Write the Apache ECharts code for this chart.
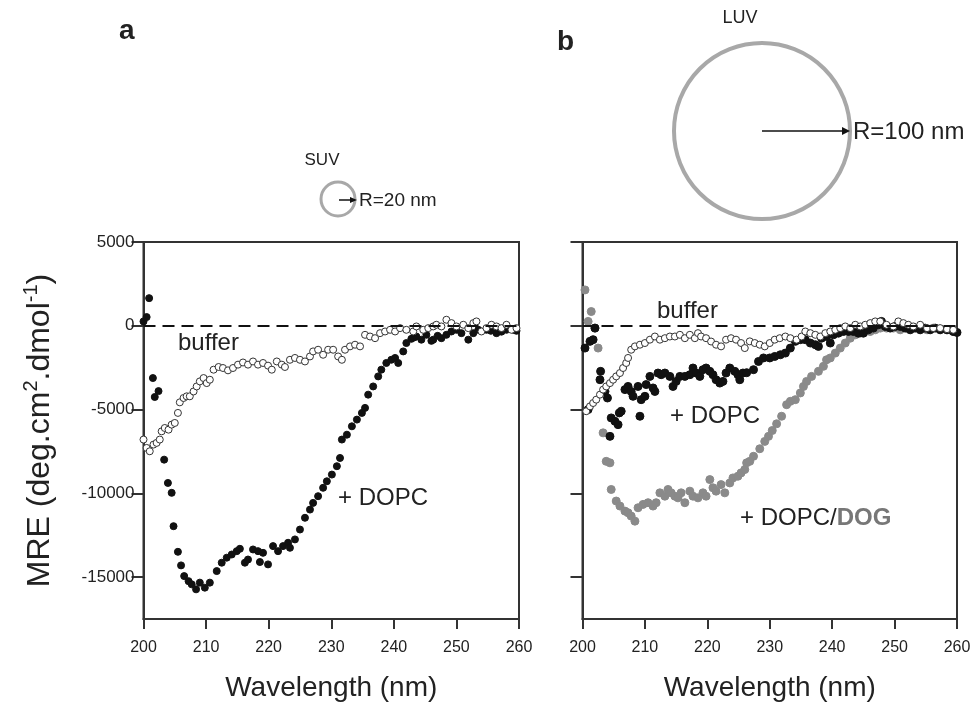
<!DOCTYPE html>
<html>
<head>
<meta charset="utf-8">
<script src="https://cdn.jsdelivr.net/npm/echarts@6/dist/echarts.min.js"></script>
<style>
  html, body { margin: 0; padding: 0; background: #fff; }
  #main { width: 973px; height: 705px; }
</style>
</head>
<body>
<div id="main"></div>
<script>
// CD spectra, wavelength (nm) vs MRE (deg.cm2.dmol-1)
var xTicks = [200, 210, 220, 230, 240, 250, 260];
var yTicks = [-15000, -10000, -5000, 0, 5000];

// panel a (SUV)
var dopcA = [
  [200.0, 260], [200.5, 520], [200.9, 1650], [201.5, -3120], [201.8, -4250], [202.4, -3900],
  [203.3, -7990], [203.9, -9380], [204.5, -9970], [204.8, -11960], [205.5, -13490], [206.0, -14300],
  [206.5, -14940], [207.2, -15240], [207.7, -15430], [208.4, -15730], [209.0, -15330], [209.8, -15630],
  [210.6, -15330], [211.7, -14640], [212.5, -14140], [213.3, -13840], [214.1, -13650], [214.9, -13450],
  [215.4, -13310], [216.2, -14140], [216.7, -13950], [217.5, -13350], [218.3, -13450], [218.6, -14100],
  [219.1, -13550], [219.9, -14240], [220.7, -13150], [221.5, -13450], [222.3, -13150], [223.1, -12950],
  [223.4, -13250], [224.2, -12750], [225.0, -12160], [225.8, -11460], [226.6, -10970], [227.1, -10570],
  [227.9, -10170], [228.7, -9670], [229.3, -9280], [230.1, -8880], [230.9, -8380], [231.4, -7890],
  [231.7, -6790], [232.5, -6500], [233.3, -6000], [234.1, -5600], [234.9, -5200], [235.4, -4900],
  [235.9, -4110], [236.7, -3620], [237.5, -3020], [238.0, -2620], [238.8, -2220], [239.6, -2030],
  [240.2, -1920], [240.7, -2220], [241.5, -1530], [242.0, -1030], [242.8, -780], [243.2, -700],
  [243.6, -640], [244.4, -830], [245.2, -540], [246.0, -900], [246.3, -830], [247.0, -600],
  [247.6, -740], [248.4, -540], [249.2, -340], [250.0, -240], [250.8, -440], [251.9, -830],
  [252.7, -440], [253.5, -240], [254.8, -240], [255.5, -300], [256.4, -440], [257.2, -350],
  [258.0, -240], [259.1, -240], [259.6, -300]
];
var bufferA = [
  [200.0, -6790], [200.5, -7290], [201.0, -7490], [201.6, -7090], [202.1, -6990], [202.6, -6790],
  [202.9, -6300], [203.4, -6100], [204.0, -6200], [204.5, -5900], [205.0, -5800], [205.5, -5200],
  [205.8, -4570], [206.4, -4310], [206.9, -4210], [207.4, -4210], [208.0, -3920], [208.5, -3620],
  [209.0, -3320], [209.6, -3120], [210.1, -3420], [210.6, -3220], [211.2, -2620], [212.0, -2460],
  [212.7, -2520], [213.5, -2660], [214.3, -2520], [215.1, -2320], [215.9, -2190], [216.7, -2320],
  [217.5, -2130], [218.3, -2320], [219.1, -2220], [219.9, -2380], [220.5, -2620], [221.3, -2130],
  [222.1, -2320], [222.6, -2460], [223.4, -2030], [224.2, -1920], [225.0, -2030], [225.8, -2130],
  [226.6, -1830], [227.1, -1530], [227.9, -1430], [228.7, -1730], [229.5, -1430], [230.3, -1430],
  [231.1, -1830], [231.7, -2030], [232.2, -1430], [233.0, -1230], [233.8, -1130], [234.6, -1230],
  [235.4, -540], [236.2, -640], [237.0, -740], [237.8, -440], [238.6, -340], [239.4, -240],
  [240.2, -340], [241.0, -140], [242.0, -240], [243.1, -340], [243.6, -40], [244.7, -240],
  [245.5, -140], [246.3, -40], [246.8, 60], [247.6, -40], [248.4, 360], [249.2, 160],
  [250.0, -40], [251.1, 60], [251.9, -140], [252.7, 160], [253.2, 260], [254.0, -340],
  [254.8, -140], [255.6, 60], [256.4, -40], [257.2, -140], [258.0, 60], [258.8, -240], [259.6, -140]
];

// panel b (LUV)
var dogB = [
  [199.9, 4330], [200.4, 2140], [200.9, 260], [201.4, 850], [202.0, -140], [202.5, -1330],
  [203.3, -6390], [203.8, -8090], [204.4, -8180], [204.6, -9770], [205.4, -10460], [206.0, -10760],
  [206.8, -11060], [207.3, -11160], [207.8, -11360], [208.4, -11660], [208.9, -10860], [209.7, -10660],
  [210.5, -10560], [211.3, -10760], [211.8, -10560], [212.4, -9970], [213.2, -10170], [213.7, -9770],
  [214.2, -9970], [214.8, -10170], [215.3, -10270], [215.8, -9970], [216.4, -10560], [217.2, -9870],
  [217.7, -10170], [218.5, -10270], [219.3, -9970], [219.8, -10170], [220.4, -9180], [220.9, -9670],
  [221.4, -9870], [222.2, -9480], [222.8, -9970], [223.6, -9380], [224.1, -9080], [224.9, -8980],
  [225.4, -8780], [226.0, -8580], [226.3, -8180], [226.8, -8090], [227.4, -7790], [228.4, -7340],
  [229.2, -6900], [229.8, -6600], [230.4, -6250], [231.1, -5850], [231.9, -5400], [232.7, -4710],
  [233.3, -4510], [234.1, -4410], [234.9, -4010], [235.4, -3620], [235.9, -3320], [236.7, -3020],
  [237.8, -2720], [238.6, -2420], [239.1, -2030], [239.7, -1920], [240.5, -1630], [241.3, -1330],
  [242.1, -1030], [242.9, -740], [243.7, -540], [244.5, -440], [245.3, -340], [246.1, -340],
  [246.9, -240], [247.7, -140], [248.7, -140], [249.8, -140], [250.9, -240], [252.0, -140],
  [253.0, -140], [254.1, -200], [255.2, -240], [256.2, -140], [257.3, -200], [258.4, -240], [259.4, -340]
];
var dopcB = [
  [199.9, 1050], [200.4, -1330], [200.9, -5000], [201.2, -930], [201.7, -830], [202.0, -140],
  [202.8, -3220], [202.9, -2720], [203.6, -3920], [204.0, -4310], [204.4, -6600], [204.6, -5500],
  [205.2, -5700], [205.7, -5900], [205.9, -5200], [206.2, -5100], [206.8, -3810], [207.3, -3620],
  [207.8, -3920], [208.1, -4210], [208.9, -3620], [209.2, -5400], [209.4, -4410], [210.0, -4210],
  [210.2, -3510], [210.8, -3020], [211.3, -3710], [211.6, -3920], [212.1, -2820], [212.6, -2920],
  [213.2, -2820], [214.0, -3020], [214.5, -3620], [215.0, -3320], [215.6, -3020], [216.4, -3020],
  [217.2, -2920], [217.7, -2520], [218.2, -2820], [218.8, -3020], [219.3, -2620], [219.8, -2520],
  [220.4, -2720], [220.9, -2920], [221.4, -3220], [222.0, -3420], [222.5, -3320], [223.0, -2820],
  [223.6, -2520], [224.4, -2720], [224.9, -2920], [225.2, -3220], [225.7, -2820], [226.3, -2800],
  [227.4, -2620], [228.2, -2130], [229.0, -1920], [230.0, -1920], [230.8, -1830], [231.7, -1730],
  [232.5, -1630], [233.3, -1330], [234.1, -930], [234.9, -830], [235.7, -830], [236.5, -1030],
  [237.3, -1130], [237.8, -1230], [238.3, -740], [239.1, -640], [239.7, -1030], [240.2, -540],
  [241.0, -440], [241.8, -340], [242.6, -340], [243.4, -340], [244.2, -440], [245.0, -440],
  [245.8, -240], [246.6, -140], [247.4, 60], [247.9, 260], [248.5, -40], [249.3, -140],
  [250.1, -40], [250.9, -40], [251.7, -140], [252.5, -240], [253.3, -140], [254.1, -240],
  [254.9, -140], [255.7, -240], [256.5, -140], [257.3, -240], [258.4, -240], [259.4, -340], [260.0, -400]
];
var bufferB = [
  [199.9, -5300], [200.6, -5100], [201.2, -4810], [201.7, -4610], [202.2, -4410], [202.8, -4110],
  [203.3, -3810], [203.8, -3620], [204.4, -3420], [204.9, -3220], [205.4, -3020], [206.0, -2820],
  [206.5, -2520], [207.0, -2220], [207.3, -1920], [207.8, -1430], [208.4, -1230], [209.2, -1130],
  [210.0, -1030], [210.8, -830], [211.6, -640], [212.4, -830], [213.2, -740], [214.0, -640],
  [214.8, -640], [215.6, -540], [216.4, -740], [217.2, -540], [218.0, -740], [218.5, -440],
  [219.0, -640], [219.8, -740], [220.6, -940], [221.4, -1130], [222.2, -1230], [223.0, -830],
  [223.8, -740], [224.6, -830], [225.4, -1030], [226.0, -1330], [226.8, -930], [227.6, -1030],
  [228.4, -1130], [229.2, -1230], [230.0, -1030], [230.8, -830], [231.6, -740], [232.5, -640],
  [233.3, -740], [234.3, -830], [235.1, -640], [235.7, -340], [236.5, -440], [237.3, -540],
  [238.1, -640], [238.9, -440], [239.7, -340], [240.5, -240], [241.3, -140], [242.1, -40],
  [242.9, -140], [243.7, 60], [244.5, -40], [245.3, 60], [246.1, 160], [246.9, 260],
  [247.7, 260], [248.7, 60], [249.8, -40], [250.6, 260], [251.4, 160], [252.2, 60],
  [253.0, -40], [254.1, 60], [255.2, -140], [256.2, -140], [257.3, -140], [258.4, -200], [259.4, -240]
];

var FONT = '"Liberation Sans", Arial, sans-serif';
var AXIS_COLOR = '#333';

var myChart = echarts.init(document.getElementById('main'));

function xAxisFor(idx) {
  return {
    type: 'value', gridIndex: idx, min: 200, max: 260, interval: 10,
    name: 'Wavelength (nm)', nameLocation: 'middle', nameGap: 55,
    nameTextStyle: { fontFamily: FONT, fontSize: 28, color: '#222' },
    axisLine: { onZero: false, lineStyle: { color: AXIS_COLOR, width: 2 } },
    axisTick: { length: 10, lineStyle: { color: AXIS_COLOR, width: 2 } },
    axisLabel: { fontFamily: FONT, fontSize: 16, color: '#222', margin: 21 },
    splitLine: { show: false }
  };
}

function yAxisFor(idx, withLabels) {
  var ax = {
    type: 'value', gridIndex: idx, min: -17500, max: 5000,
    axisLine: { onZero: false, lineStyle: { color: AXIS_COLOR, width: 2 } },
    axisTick: { length: 12, customValues: yTicks, lineStyle: { color: AXIS_COLOR, width: 2 } },
    axisLabel: {
      show: withLabels, customValues: yTicks, fontFamily: FONT, fontSize: 17, color: '#222', margin: 9,
      formatter: function (v) { return String(v); }
    },
    splitLine: { show: false }
  };
  if (withLabels) {
    ax.name = 'MRE (deg.cm{sup|2}.dmol{sup|-1})';
    ax.nameLocation = 'middle';
    ax.nameGap = 84;
    ax.nameTextStyle = {
      fontFamily: FONT, fontSize: 32, color: '#222', lineHeight: 38,
      rich: { sup: { fontFamily: FONT, fontSize: 20, color: '#222', verticalAlign: 'top', lineHeight: 32 } }
    };
  }
  return ax;
}

function dots(name, data, idx, color, border, size, z) {
  return {
    name: name, type: 'scatter', xAxisIndex: idx, yAxisIndex: idx,
    data: data, symbol: 'circle', symbolSize: size, z: z, silent: true,
    itemStyle: { color: color, borderColor: border, borderWidth: 1, opacity: 1 }
  };
}

function zeroLine(idx) {
  return {
    type: 'line', xAxisIndex: idx, yAxisIndex: idx, data: [], silent: true,
    markLine: {
      silent: true, symbol: ['none', 'none'], label: { show: false },
      lineStyle: { color: '#111', width: 2, type: [12, 7] },
      data: [{ yAxis: 0 }]
    }
  };
}

function txt(x, y, text, size, extra) {
  var s = {
    text: text, font: (extra && extra.bold ? 'bold ' : '') + size + 'px ' + FONT,
    fill: (extra && extra.fill) || '#222',
    align: (extra && extra.align) || 'left', verticalAlign: 'middle',
    textAlign: (extra && extra.align) || 'left', textVerticalAlign: 'middle'
  };
  if (extra && extra.rich) s.rich = extra.rich;
  return { type: 'text', x: x, y: y, silent: true, style: s };
}

var option = {
  backgroundColor: '#fff',
  animation: false,
  grid: [
    { left: 143.5, right: 454, top: 242, bottom: 86, outerBoundsMode: 'none', show: true, borderColor: AXIS_COLOR, borderWidth: 2 },
    { left: 582.5, right: 16, top: 242, bottom: 86, outerBoundsMode: 'none', show: true, borderColor: AXIS_COLOR, borderWidth: 2 }
  ],
  xAxis: [xAxisFor(0), xAxisFor(1)],
  yAxis: [yAxisFor(0, true), yAxisFor(1, false)],
  series: [
    zeroLine(0),
    zeroLine(1),
    dots('+ DOPC', dopcA, 0, '#111', '#111', 7, 3),
    dots('buffer', bufferA, 0, '#fff', '#333', 7, 4),
    dots('+ DOPC/DOG', dogB, 1, '#8a8a8a', '#8a8a8a', 8, 2),
    dots('+ DOPC', dopcB, 1, '#111', '#111', 8, 3),
    dots('buffer', bufferB, 1, '#fff', '#333', 7, 4)
  ],
  graphic: [
    txt(119, 31, 'a', 28, { bold: true }),
    txt(557, 42, 'b', 28, { bold: true }),
    // SUV sketch
    txt(322, 160, 'SUV', 17, { align: 'center' }),
    { type: 'circle', silent: true, shape: { cx: 338, cy: 199, r: 17 }, style: { fill: 'none', stroke: '#a8a8a8', lineWidth: 3 } },
    { type: 'line', silent: true, shape: { x1: 339, y1: 200, x2: 352, y2: 200 }, style: { stroke: '#111', lineWidth: 1.5 } },
    { type: 'polygon', silent: true, shape: { points: [[357, 200], [350, 197], [350, 203]] }, style: { fill: '#111' } },
    txt(359, 201, 'R=20 nm', 19),
    // LUV sketch
    txt(740, 18, 'LUV', 18, { align: 'center' }),
    { type: 'circle', silent: true, shape: { cx: 762, cy: 131, r: 88 }, style: { fill: 'none', stroke: '#a8a8a8', lineWidth: 4 } },
    { type: 'line', silent: true, shape: { x1: 762, y1: 131, x2: 843, y2: 131 }, style: { stroke: '#111', lineWidth: 1.5 } },
    { type: 'polygon', silent: true, shape: { points: [[850, 131], [842, 127], [842, 135]] }, style: { fill: '#111' } },
    txt(853, 132, 'R=100 nm', 24),
    // curve labels
    txt(178, 343, 'buffer', 24),
    txt(338, 498, '+ DOPC', 24),
    txt(657, 311, 'buffer', 24),
    txt(670, 416, '+ DOPC', 24),
    txt(740, 518, '+ DOPC/{g|DOG}', 24, {
      rich: { g: { fill: '#777', color: '#777', fontWeight: 'bold', fontSize: 24, fontFamily: FONT } }
    })
  ]
};

myChart.setOption(option);
</script>
</body>
</html>
